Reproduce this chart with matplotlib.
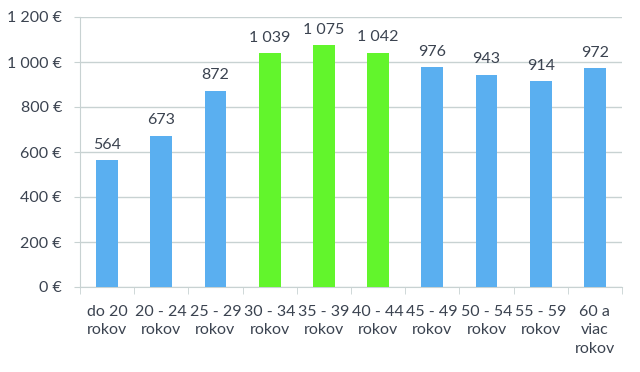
import matplotlib.pyplot as plt
import numpy as np

categories = ["do 20\nrokov", "20 - 24\nrokov", "25 - 29\nrokov", "30 - 34\nrokov",
              "35 - 39\nrokov", "40 - 44\nrokov", "45 - 49\nrokov", "50 - 54\nrokov",
              "55 - 59\nrokov", "60 a\nviac\nrokov"]
values = [564, 673, 872, 1039, 1075, 1042, 976, 943, 914, 972]
highlight = [False, False, False, True, True, True, False, False, False, False]

BLUE = "#5aaff0"
GREEN = "#62f52c"
TEXT = "#3b4350"
GRID = "#c8d2d2"

plt.rcParams["font.family"] = ["Lato", "DejaVu Sans"]

fig = plt.figure(figsize=(6.4, 3.72), dpi=100)
ax = fig.add_axes([80 / 640, 1 - 287 / 372, 542 / 640, 270 / 372])

x = np.arange(len(values))
colors = [GREEN if h else BLUE for h in highlight]
ax.bar(x, values, width=0.4, color=colors, zorder=3)

for xi, v in zip(x, values):
    label = f"{v:,}".replace(",", " ")
    ax.annotate(label, (xi, v), xytext=(0, 6), textcoords="offset points",
                ha="center", va="bottom", fontsize=11.5, color=TEXT)

ax.set_xlim(-0.5, len(values) - 0.5)
ax.set_ylim(0, 1200)
yt = np.arange(0, 1201, 200)
ax.set_yticks(yt)
ax.set_yticklabels([f"{v:,} €".replace(",", " ") for v in yt], fontsize=11.5, color=TEXT)
ax.yaxis.grid(True, color=GRID, linewidth=1, zorder=0)
ax.tick_params(axis="y", length=4, color=GRID, pad=9)

ax.set_xticks(x)
ax.set_xticklabels(categories, fontsize=11.5, color=TEXT, linespacing=1.4, va="top")
ax.set_xticks(np.arange(-0.5, len(values) + 0.5, 1), minor=True)
ax.tick_params(axis="x", which="major", length=0, pad=13)
ax.tick_params(axis="x", which="minor", length=5, color=GRID)

for side in ["top", "right"]:
    ax.spines[side].set_visible(False)
ax.spines["left"].set_color(GRID)
ax.spines["bottom"].set_color(GRID)

fig.savefig("out.png", dpi=100, facecolor="white")
